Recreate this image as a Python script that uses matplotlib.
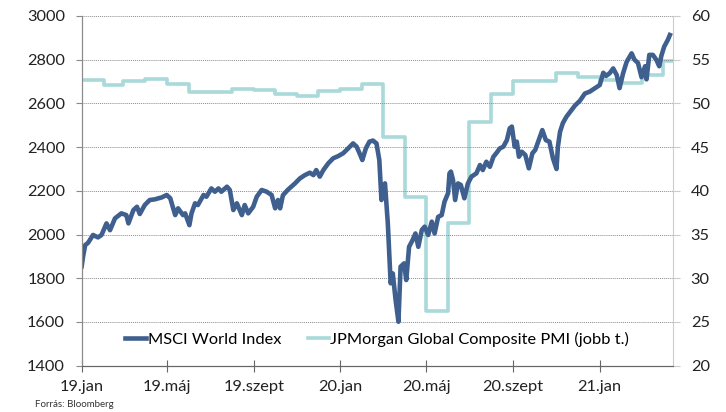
import numpy as np
import pandas as pd
import matplotlib
matplotlib.use("Agg")
import matplotlib.pyplot as plt

plt.rcParams['font.family'] = ['Lato', 'DejaVu Sans']

# MSCI World Index (left axis)
msci_dates = [
    "2019-01-01", "2019-01-03", "2019-01-06", "2019-01-10", "2019-01-17", "2019-01-24",
    "2019-01-29", "2019-02-05", "2019-02-10", "2019-02-17", "2019-02-26", "2019-03-05",
    "2019-03-08", "2019-03-15", "2019-03-20", "2019-03-24", "2019-03-31", "2019-04-07",
    "2019-04-14", "2019-04-24", "2019-05-01", "2019-05-06", "2019-05-13", "2019-05-17",
    "2019-05-24", "2019-05-27", "2019-06-02", "2019-06-05", "2019-06-10", "2019-06-14",
    "2019-06-22", "2019-06-26", "2019-07-03", "2019-07-08", "2019-07-13", "2019-07-17",
    "2019-07-25", "2019-07-29", "2019-08-03", "2019-08-08", "2019-08-15", "2019-08-19",
    "2019-08-24", "2019-08-31", "2019-09-05", "2019-09-12", "2019-09-19", "2019-09-26",
    "2019-10-01", "2019-10-05", "2019-10-08", "2019-10-12", "2019-10-19", "2019-10-29",
    "2019-11-05", "2019-11-12", "2019-11-19", "2019-11-24", "2019-11-28", "2019-12-03",
    "2019-12-08", "2019-12-15", "2019-12-22", "2019-12-29", "2020-01-05", "2020-01-12",
    "2020-01-19", "2020-01-24", "2020-01-29", "2020-02-01", "2020-02-06", "2020-02-11",
    "2020-02-16", "2020-02-21", "2020-02-25", "2020-02-28", "2020-03-04", "2020-03-08",
    "2020-03-12", "2020-03-15", "2020-03-19", "2020-03-23", "2020-03-26", "2020-03-31",
    "2020-04-03", "2020-04-07", "2020-04-12", "2020-04-16", "2020-04-20", "2020-04-25",
    "2020-04-29", "2020-05-04", "2020-05-09", "2020-05-13", "2020-05-18", "2020-05-23",
    "2020-05-27", "2020-06-01", "2020-06-03", "2020-06-05", "2020-06-08", "2020-06-11",
    "2020-06-15", "2020-06-19", "2020-06-24", "2020-06-29", "2020-07-04", "2020-07-11",
    "2020-07-16", "2020-07-20", "2020-07-25", "2020-07-30", "2020-08-04", "2020-08-08",
    "2020-08-13", "2020-08-18", "2020-08-23", "2020-08-27", "2020-08-30", "2020-09-03",
    "2020-09-06", "2020-09-09", "2020-09-13", "2020-09-18", "2020-09-23", "2020-09-28",
    "2020-10-02", "2020-10-07", "2020-10-12", "2020-10-17", "2020-10-22", "2020-10-27",
    "2020-11-01", "2020-11-03", "2020-11-06", "2020-11-10", "2020-11-15", "2020-11-20",
    "2020-11-27", "2020-12-04", "2020-12-11", "2020-12-18", "2020-12-25", "2021-01-01",
    "2021-01-06", "2021-01-10", "2021-01-15", "2021-01-20", "2021-01-25", "2021-01-29",
    "2021-02-03", "2021-02-08", "2021-02-15", "2021-02-19", "2021-02-24", "2021-03-01",
    "2021-03-06", "2021-03-08", "2021-03-12", "2021-03-17", "2021-03-22", "2021-03-26",
    "2021-03-29", "2021-04-02", "2021-04-07", "2021-04-10",
]
msci_values = [
    1855, 1900, 1952, 1962, 1998, 1987,
    1998, 2051, 2020, 2074, 2097, 2089,
    2051, 2112, 2127, 2094, 2135, 2158,
    2161, 2170, 2181, 2166, 2089, 2120,
    2089, 2097, 2043, 2097, 2143, 2135,
    2181, 2173, 2211, 2196, 2211, 2196,
    2219, 2204, 2112, 2143, 2089, 2135,
    2097, 2127, 2173, 2204, 2196, 2181,
    2120, 2158, 2120, 2180, 2205, 2234,
    2257, 2272, 2283, 2272, 2295, 2265,
    2295, 2326, 2349, 2359, 2372, 2394,
    2417, 2402, 2365, 2341, 2394, 2425,
    2430, 2417, 2341, 2158, 2234, 2051,
    1777, 1822, 1700, 1601, 1853, 1868,
    1792, 1944, 1975, 2005, 1944, 2021,
    2036, 1998, 2059, 2005, 2081, 2089,
    2150, 2189, 2280, 2288, 2249, 2158,
    2234, 2227, 2166, 2234, 2265, 2280,
    2318, 2295, 2333, 2310, 2356, 2372,
    2394, 2402, 2432, 2486, 2494, 2402,
    2425, 2356, 2379, 2364, 2303, 2372,
    2387, 2432, 2478, 2432, 2425, 2349,
    2300, 2402, 2470, 2510, 2539, 2560,
    2590, 2612, 2645, 2654, 2669, 2684,
    2740, 2726, 2738, 2760, 2730, 2670,
    2738, 2790, 2829, 2800, 2785, 2720,
    2770, 2710, 2822, 2822, 2799, 2770,
    2818, 2860, 2890, 2913,
]

# JPMorgan Global Composite PMI (right axis), monthly steps
pmi_months = pd.date_range("2019-01-01", "2021-04-01", freq="MS")
pmi_values = [
    52.7, 52.1, 52.6, 52.8, 52.2, 51.3, 51.3, 51.7, 51.5, 51.1, 50.8, 51.4,
    51.6, 52.2, 46.2, 39.3, 26.3, 36.3, 47.9, 51.1, 52.6, 52.6, 53.5, 53.0,
    52.7, 52.3, 53.2, 54.8,
]

tick_dates = ["2019-01-01", "2019-05-01", "2019-09-01", "2020-01-01",
              "2020-05-01", "2020-09-01", "2021-01-01"]
tick_labels = ["19.jan", "19.máj", "19.szept", "20.jan", "20.máj", "20.szept", "21.jan"]

msci_color = "#3f5f8f"
pmi_color = "#a9d9d9"

fig = plt.figure(figsize=(7.26, 4.12), dpi=100)
ax = fig.add_axes([0.1125, 0.1124, 0.8141, 0.8488])
ax2 = ax.twinx()

x_end = pd.Timestamp("2021-04-14")
pmi_x = list(pmi_months) + [x_end]
pmi_y = pmi_values + [pmi_values[-1]]
l2, = ax2.step(pmi_x, pmi_y, where="post", color=pmi_color, lw=2.6,
               label="JPMorgan Global Composite PMI (jobb t.)")
l1, = ax.plot(pd.to_datetime(msci_dates), msci_values, color=msci_color, lw=3.3,
              solid_joinstyle="round", label="MSCI World Index")

ax.set_zorder(ax2.get_zorder() + 1)
ax.patch.set_visible(False)

ax.set_xlim(pd.Timestamp("2019-01-01"), x_end)
ax.set_ylim(1400, 3000)
ax.set_yticks(np.arange(1400, 3001, 200))
ax2.set_ylim(20, 60)
ax2.set_yticks(np.arange(20, 61, 5))
ax.set_xticks(pd.to_datetime(tick_dates))
ax.set_xticklabels(tick_labels)

ax.grid(axis="y", color="#8c8c8c", linestyle=(0, (1, 1)), linewidth=0.7)
ax.set_axisbelow(True)

for a in (ax, ax2):
    a.spines["top"].set_visible(False)
    a.spines["left"].set_color("#8a8a8a")
    a.spines["bottom"].set_color("#666666")
    a.spines["right"].set_color("#cccccc")
ax.spines["right"].set_visible(False)

ax.tick_params(axis="y", length=4, color="#8a8a8a", labelsize=11.8, pad=8, labelcolor="#222222")
ax.tick_params(axis="x", direction="inout", length=8, color="#666666", labelsize=11.8, pad=6,
               labelcolor="#222222")
ax2.tick_params(axis="y", length=5, color="#cccccc", labelsize=11.8, pad=8, labelcolor="#222222")

ax.legend([l1, l2], [l1.get_label(), l2.get_label()], loc="center",
          bbox_to_anchor=(0.5, 0.076), ncol=2, frameon=False, fontsize=11.8,
          handlelength=1.3, handletextpad=0.1, columnspacing=1.6)

fig.text(0.048, 0.012, "Forrás: Bloomberg", fontsize=7, color="#333333")

fig.savefig("out.png", dpi=100)
